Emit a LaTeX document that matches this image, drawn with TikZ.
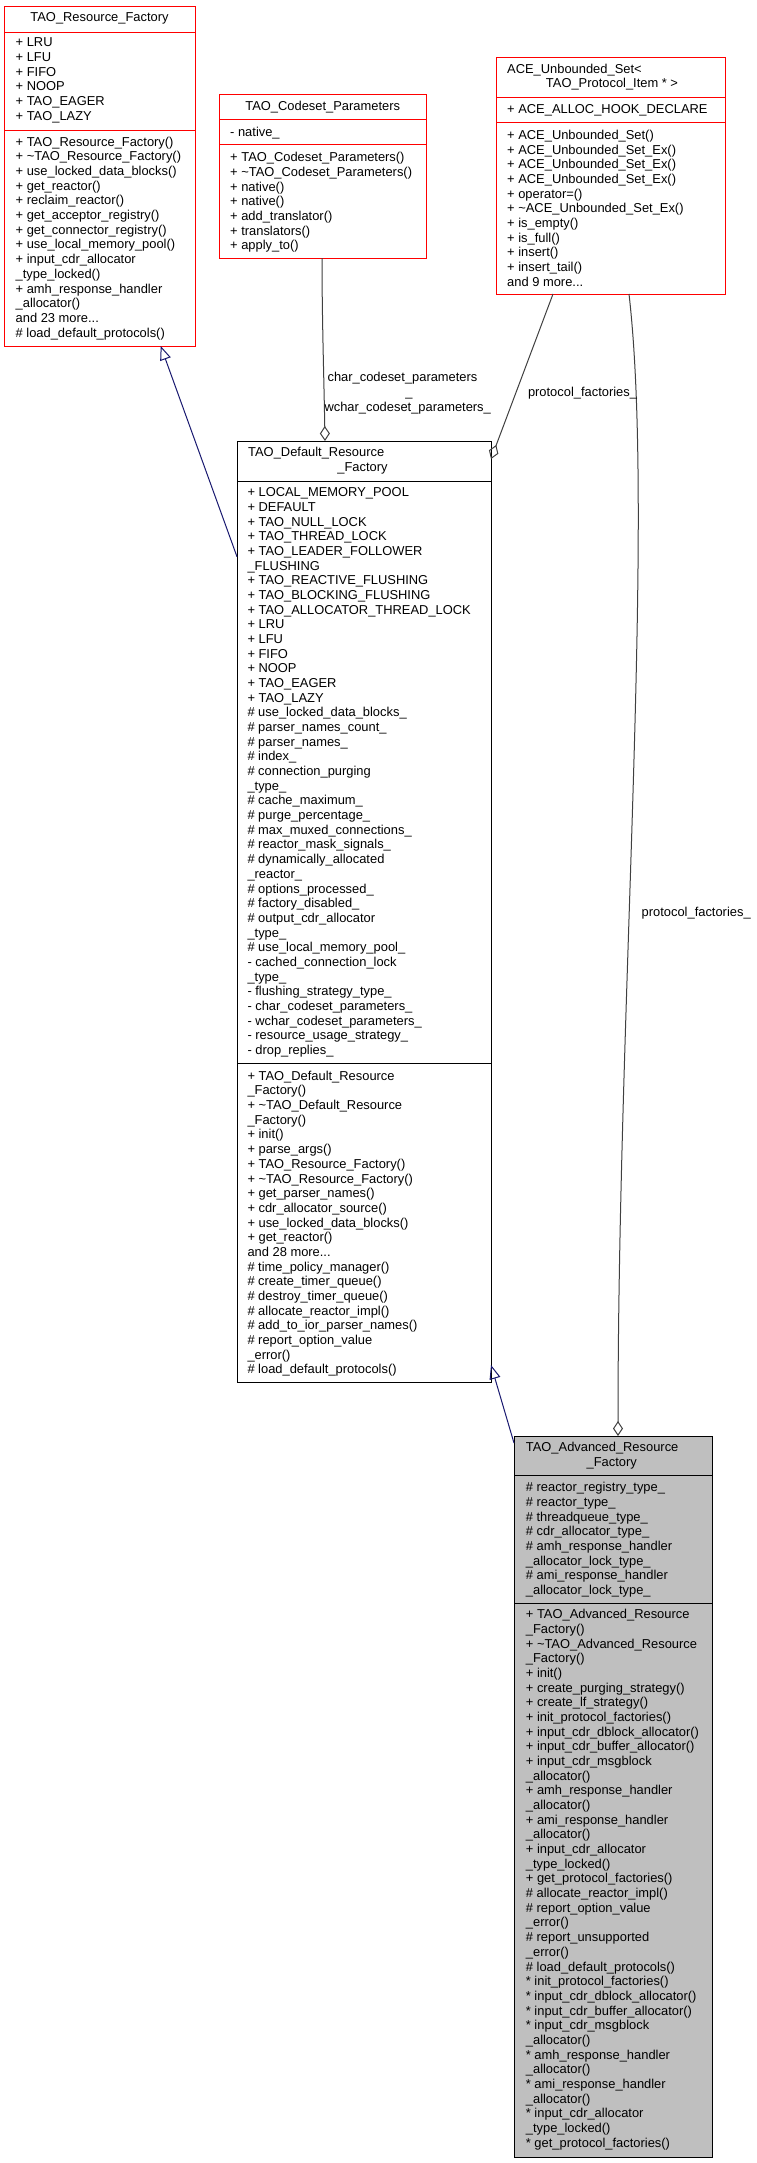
\documentclass[tikz,border=0pt]{standalone}
\usepackage{fontspec}
\setmainfont{Liberation Sans}
\usetikzlibrary{arrows.meta,calc}
\definecolor{inh}{HTML}{191970}
\definecolor{agg}{HTML}{404040}
\definecolor{grayfill}{HTML}{BFBFBF}
\definecolor{redline}{HTML}{FF0000}
\tikzset{
  redbox/.style={draw=redline, line width=1pt, fill=white, anchor=north west, inner sep=0pt, outer sep=0pt},
  blkbox/.style={draw=black, line width=1pt, fill=white, anchor=north west, inner sep=0pt, outer sep=0pt},
  grybox/.style={draw=black, line width=1pt, fill=grayfill, anchor=north west, inner sep=0pt, outer sep=0pt},
  redsep/.style={draw=redline, line width=1pt},
  blksep/.style={draw=black, line width=1pt},
  txt/.style={anchor=base west, inner sep=0pt, font=\fontsize{12.9}{14.67}\selectfont},
  ttl/.style={anchor=base, inner sep=0pt, font=\fontsize{12.9}{14.67}\selectfont},
  inherit/.style={draw=inh, line width=1pt, -{Triangle[open, length=14pt, width=11pt]}},
  aggr/.style={draw=agg, line width=1pt, -{Diamond[open, length=15pt, width=10pt]}},
}
\newcommand\classtext[4]{%
  \foreach \t [count=\i] in {#4} {\node[txt] (#1-\i) at (#2, {#3+(\i-1)*14.67}) {\t};}}
\begin{document}
\begin{tikzpicture}[x=1pt, y=-1pt]
\useasboundingbox (0,0) rectangle (757,2163);
\fill[white] (0,0) rectangle (757,2163);

% ---------- TAO_Resource_Factory ----------
\node[redbox, minimum width=191pt, minimum height=340pt] (rf) at (4,6) {};
\draw[redsep] (4,32) -- (195,32);
\draw[redsep] (4,130) -- (195,130);
\node[ttl] (rf-t) at (99.5,21.6) {TAO\_Resource\_Factory};
\classtext{rfa}{15.5}{46.9}{+ LRU, + LFU, + FIFO, + NOOP, + TAO\_EAGER, + TAO\_LAZY}
\classtext{rfm}{15.5}{146.3}{+ TAO\_Resource\_Factory(), + \textasciitilde TAO\_Resource\_Factory(), + use\_locked\_data\_blocks(), + get\_reactor(), + reclaim\_reactor(), + get\_acceptor\_registry(), + get\_connector\_registry(), + use\_local\_memory\_pool(), + input\_cdr\_allocator, \_type\_locked(), + amh\_response\_handler, \_allocator(), and 23 more.{}.{}., \# load\_default\_protocols()}

% ---------- TAO_Codeset_Parameters ----------
\node[redbox, minimum width=207pt, minimum height=164pt] (cp) at (219,94) {};
\draw[redsep] (219,119) -- (426,119);
\draw[redsep] (219,144) -- (426,144);
\node[ttl] (cp-t) at (322.7,110.3) {TAO\_Codeset\_Parameters};
\classtext{cpa}{230}{136.3}{- native\_}
\classtext{cpm}{230}{161.9}{+ TAO\_Codeset\_Parameters(), + \textasciitilde TAO\_Codeset\_Parameters(), + native(), + native(), + add\_translator(), + translators(), + apply\_to()}

% ---------- ACE_Unbounded_Set ----------
\node[redbox, minimum width=229pt, minimum height=237pt] (as) at (496,57) {};
\draw[redsep] (496,97) -- (725,97);
\draw[redsep] (496,122) -- (725,122);
\node[txt] (as-t1) at (507,73.6) {ACE\_Unbounded\_Set<};
\node[ttl] (as-t2) at (612,87.9) {TAO\_Protocol\_Item * >};
\classtext{asa}{507}{113.6}{+ ACE\_ALLOC\_HOOK\_DECLARE}
\classtext{asm}{507}{139.6}{+ ACE\_Unbounded\_Set(), + ACE\_Unbounded\_Set\_Ex(), + ACE\_Unbounded\_Set\_Ex(), + ACE\_Unbounded\_Set\_Ex(), + operator=(), + \textasciitilde ACE\_Unbounded\_Set\_Ex(), + is\_empty(), + is\_full(), + insert(), + insert\_tail(), and 9 more.{}.{}.}

% ---------- TAO_Default_Resource_Factory ----------
\node[blkbox, minimum width=254pt, minimum height=941pt] (df) at (237,441) {};
\draw[blksep] (237,481) -- (491,481);
\draw[blksep] (237,1063) -- (491,1063);
\node[txt] (df-t1) at (248,456.9) {TAO\_Default\_Resource};
\node[ttl] (df-t2) at (362.5,471.9) {\_Factory};
\classtext{dfa}{247.3}{496.9}{+ LOCAL\_MEMORY\_POOL, + DEFAULT, + TAO\_NULL\_LOCK, + TAO\_THREAD\_LOCK, + TAO\_LEADER\_FOLLOWER, \_FLUSHING, + TAO\_REACTIVE\_FLUSHING, + TAO\_BLOCKING\_FLUSHING, + TAO\_ALLOCATOR\_THREAD\_LOCK, + LRU, + LFU, + FIFO, + NOOP, + TAO\_EAGER, + TAO\_LAZY, \# use\_locked\_data\_blocks\_, \# parser\_names\_count\_, \# parser\_names\_, \# index\_, \# connection\_purging, \_type\_, \# cache\_maximum\_, \# purge\_percentage\_, \# max\_muxed\_connections\_, \# reactor\_mask\_signals\_, \# dynamically\_allocated, \_reactor\_, \# options\_processed\_, \# factory\_disabled\_, \# output\_cdr\_allocator, \_type\_, \# use\_local\_memory\_pool\_, - cached\_connection\_lock, \_type\_, - flushing\_strategy\_type\_, - char\_codeset\_parameters\_, - wchar\_codeset\_parameters\_, - resource\_usage\_strategy\_, - drop\_replies\_}
\classtext{dfm}{247.3}{1080.3}{+ TAO\_Default\_Resource, \_Factory(), + \textasciitilde TAO\_Default\_Resource, \_Factory(), + init(), + parse\_args(), + TAO\_Resource\_Factory(), + \textasciitilde TAO\_Resource\_Factory(), + get\_parser\_names(), + cdr\_allocator\_source(), + use\_locked\_data\_blocks(), + get\_reactor(), and 28 more.{}.{}., \# time\_policy\_manager(), \# create\_timer\_queue(), \# destroy\_timer\_queue(), \# allocate\_reactor\_impl(), \# add\_to\_ior\_parser\_names(), \# report\_option\_value, \_error(), \# load\_default\_protocols()}

% ---------- TAO_Advanced_Resource_Factory ----------
\node[grybox, minimum width=198pt, minimum height=721pt] (af) at (514,1436) {};
\draw[blksep] (514,1475) -- (712,1475);
\draw[blksep] (514,1603) -- (712,1603);
\node[txt] (af-t1) at (525.7,1451.3) {TAO\_Advanced\_Resource};
\node[ttl] (af-t2) at (611.7,1466.3) {\_Factory};
\classtext{afa}{525.7}{1491.9}{\# reactor\_registry\_type\_, \# reactor\_type\_, \# threadqueue\_type\_, \# cdr\_allocator\_type\_, \# amh\_response\_handler, \_allocator\_lock\_type\_, \# ami\_response\_handler, \_allocator\_lock\_type\_}
\classtext{afm}{525.7}{1618.9}{+ TAO\_Advanced\_Resource, \_Factory(), + \textasciitilde TAO\_Advanced\_Resource, \_Factory(), + init(), + create\_purging\_strategy(), + create\_lf\_strategy(), + init\_protocol\_factories(), + input\_cdr\_dblock\_allocator(), + input\_cdr\_buffer\_allocator(), + input\_cdr\_msgblock, \_allocator(), + amh\_response\_handler, \_allocator(), + ami\_response\_handler, \_allocator(), + input\_cdr\_allocator, \_type\_locked(), + get\_protocol\_factories(), \# allocate\_reactor\_impl(), \# report\_option\_value, \_error(), \# report\_unsupported, \_error(), \# load\_default\_protocols(), * init\_protocol\_factories(), * input\_cdr\_dblock\_allocator(), * input\_cdr\_buffer\_allocator(), * input\_cdr\_msgblock, \_allocator(), * amh\_response\_handler, \_allocator(), * ami\_response\_handler, \_allocator(), * input\_cdr\_allocator, \_type\_locked(), * get\_protocol\_factories()}

% ---------- connectors ----------
\draw[inherit] ($(df.north west)+(0,115.7)$) -- ($(rf.south west)+(156.7,0)$);
\draw[inherit] ($(af.north west)+(0,7)$) -- ($(df.north east)+(0,924)$);
\draw[aggr] ($(cp.south west)+(103,0)$) .. controls ($(cp.south west)+(103,60)$) and ($(df.north west)+(87,-60)$) .. ($(df.north west)+(88,0)$);
\draw[aggr] ($(as.south west)+(57,0)$) -- ($(df.north east)+(0,18)$);
\draw[aggr] ($(as.south west)+(133,0)$) .. controls ($(as.south west)+(159,226)$) and ($(af.north west)+(104,-436)$) .. ($(af.north west)+(104,0)$);

% ---------- connector labels ----------
\node[ttl] (lc1) at (402.5,381.6) {char\_codeset\_parameters};
\node[ttl] (lc2) at (409,396.6) {\_};
\node[ttl] (lc3) at (407.7,411.6) {wchar\_codeset\_parameters\_};
\node[ttl] (lp1) at (582.5,396.9) {protocol\_factories\_};
\node[ttl] (lp2) at (696.2,916.6) {protocol\_factories\_};
\end{tikzpicture}
\end{document}
